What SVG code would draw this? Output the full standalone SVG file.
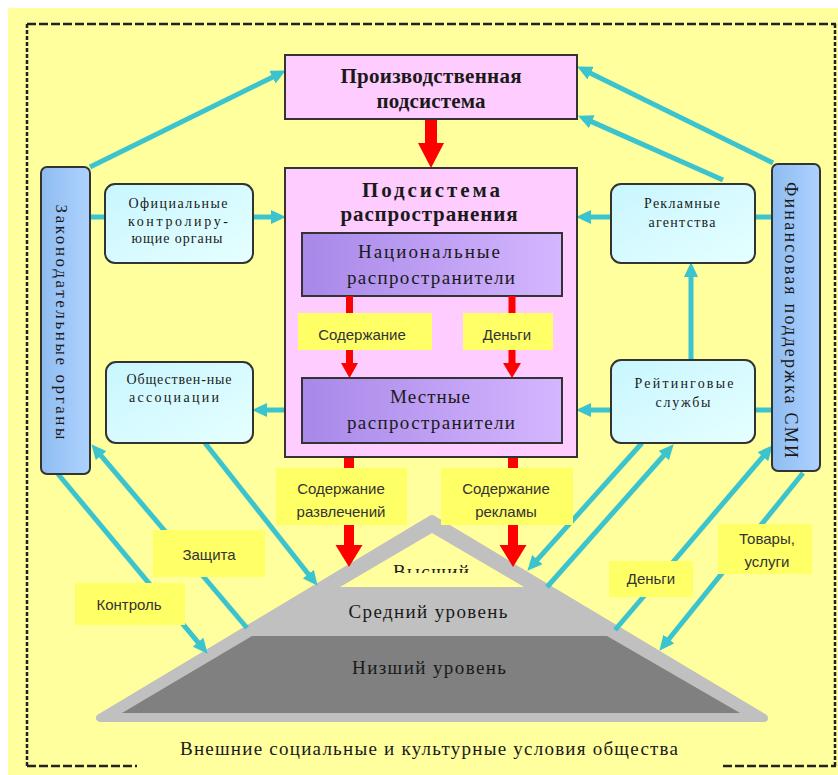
<svg xmlns="http://www.w3.org/2000/svg" width="838" height="775" viewBox="0 0 838 775">
<defs>
<style>
.serif{font-family:"Liberation Serif","Times New Roman",serif;fill:#1a1a1a}
.sans{font-family:"Liberation Sans",Arial,sans-serif;fill:#333;font-size:15px}
.box{stroke:#333;stroke-width:2}
.cy{fill:none;stroke:#3BC4CE;stroke-width:5}
.cya{fill:none;stroke:#3BC4CE;stroke-width:5;marker-end:url(#ah)}
.lbl{fill:#FFFF66}
.red{fill:#FF0000}
.dash{stroke:#222;stroke-width:2.5;stroke-dasharray:9 3;fill:none}
</style>
<marker id="ah" viewBox="0 0 15 14" refX="4" refY="7" markerWidth="15" markerHeight="14" markerUnits="userSpaceOnUse" orient="auto"><path d="M0,0 L15,7 L0,14 z" fill="#3BC4CE"/></marker>
<linearGradient id="gPurple" x1="0" y1="0" x2="1" y2="0"><stop offset="0" stop-color="#A888E8"/><stop offset="1" stop-color="#D4B6FF"/></linearGradient>
<linearGradient id="gCyan" x1="0" y1="0" x2="1" y2="1"><stop offset="0" stop-color="#C8F6FF"/><stop offset="1" stop-color="#E6FFFF"/></linearGradient>
<linearGradient id="gBlue" x1="0" y1="0" x2="1" y2="0"><stop offset="0" stop-color="#8EBCF0"/><stop offset="1" stop-color="#AED2FF"/></linearGradient>
<clipPath id="clipTop"><rect x="380" y="540" width="110" height="33"/></clipPath>
</defs>

<rect x="0" y="0" width="838" height="775" fill="#FFFFFF"/>
<rect x="8" y="8" width="830" height="767" fill="#FFFF9E"/>

<g id="frame">
<line class="dash" x1="27" y1="24" x2="836" y2="24"/>
<line class="dash" x1="27" y1="24" x2="27" y2="766" style="stroke-dasharray:4 2"/>
<line class="dash" x1="835" y1="24" x2="835" y2="766" style="stroke-dasharray:4 2"/>
<line class="dash" x1="27" y1="766" x2="137" y2="766"/>
<line class="dash" x1="723" y1="766" x2="836" y2="766"/>
<text class="serif" x="429" y="755" font-size="19" text-anchor="middle" textLength="498">Внешние социальные и культурные условия общества</text>
</g>

<g id="pyramid">
<polygon points="432,519 100,718 764,718" fill="#C0C0C0" stroke="#C0C0C0" stroke-width="8" stroke-linejoin="round"/>
<polygon points="432,533 340,587 524,587" fill="#FFFF9E"/>
<polygon points="252,636 607,636 740,713 122,713" fill="#808080"/>
<text class="serif" x="431" y="578" font-size="19" text-anchor="middle" textLength="76" clip-path="url(#clipTop)">Высший</text>
<text class="serif" x="428" y="618" font-size="19" text-anchor="middle" textLength="159">Средний уровень</text>
<text class="serif" x="429" y="674" font-size="19" text-anchor="middle" textLength="154">Низший уровень</text>
</g>

<g id="connectors">
<line class="cya" x1="90" y1="167" x2="276" y2="75.4"/>
<line class="cya" x1="773" y1="163" x2="587" y2="71.4"/>
<line class="cya" x1="723" y1="180" x2="588.1" y2="120.1"/>
<line class="cy" x1="89" y1="217" x2="106" y2="217"/>
<line class="cya" x1="253" y1="217" x2="275" y2="217"/>
<line class="cy" x1="754" y1="217" x2="773" y2="217"/>
<line class="cya" x1="611" y1="217" x2="587" y2="217"/>
<line class="cya" x1="691" y1="360" x2="691" y2="273"/>
<line class="cy" x1="754" y1="410" x2="773" y2="410"/>
<line class="cya" x1="611" y1="410" x2="587" y2="410"/>
<line class="cya" x1="285" y1="410" x2="263" y2="410"/>
<line class="cya" x1="58" y1="474" x2="200.6" y2="645.3"/>
<line class="cya" x1="247" y1="628" x2="98.5" y2="452.6"/>
<line class="cya" x1="205" y1="443" x2="310.8" y2="577.2"/>
<line class="cya" x1="642" y1="443" x2="534.7" y2="562.6"/>
<line class="cya" x1="547" y1="587" x2="666.4" y2="452.5"/>
<line class="cya" x1="615" y1="630" x2="765.5" y2="453.6"/>
<line class="cya" x1="803" y1="473" x2="666.3" y2="642.2"/>
<polygon class="red" points="425,119 437,119 437,143 444,143 431,168 418,143 425,143"/>
<polygon class="red" points="344,457 354,457 354,545 362.5,545 349,567 335.5,545 344,545"/>
<polygon class="red" points="508,457 518,457 518,545 526.5,545 513,567 499.5,545 508,545"/>
</g>

<g id="labels">
<rect class="lbl" x="276" y="468" width="131" height="57"/>
<text class="sans" x="341" y="494" text-anchor="middle">Содержание</text>
<text class="sans" x="341" y="517" text-anchor="middle">развлечений</text>
<rect class="lbl" x="441" y="468" width="132" height="57"/>
<text class="sans" x="506" y="494" text-anchor="middle">Содержание</text>
<text class="sans" x="506" y="517" text-anchor="middle">рекламы</text>
<rect class="lbl" x="153" y="530" width="112" height="47"/>
<text class="sans" x="209" y="560" text-anchor="middle">Защита</text>
<rect class="lbl" x="75" y="583" width="110" height="42"/>
<text class="sans" x="129" y="610" text-anchor="middle">Контроль</text>
<rect class="lbl" x="609" y="561" width="84" height="36"/>
<text class="sans" x="651" y="584" text-anchor="middle">Деньги</text>
<rect class="lbl" x="718" y="524" width="94" height="50"/>
<text class="sans" x="767" y="544" text-anchor="middle">Товары,</text>
<text class="sans" x="767" y="567" text-anchor="middle">услуги</text>
</g>

<g id="production">
<rect class="box" x="285" y="55" width="292" height="64" fill="#FFCCFF"/>
<text class="serif" x="431" y="83" font-size="21" font-weight="bold" text-anchor="middle" textLength="181">Производственная</text>
<text class="serif" x="431" y="108" font-size="21" font-weight="bold" text-anchor="middle" textLength="109">подсистема</text>
</g>

<g id="distribution">
<rect class="box" x="285" y="168" width="292" height="289" fill="#FFCCFF"/>
<text class="serif" x="431" y="197" font-size="21" font-weight="bold" text-anchor="middle" textLength="138">Подсистема</text>
<text class="serif" x="429" y="221" font-size="21" font-weight="bold" text-anchor="middle" textLength="177">распространения</text>
</g>

<g id="national">
<rect class="box" x="302" y="233" width="260" height="63" fill="url(#gPurple)"/>
<text class="serif" x="429" y="258" font-size="19" text-anchor="middle" textLength="142">Национальные</text>
<text class="serif" x="431" y="284" font-size="19" text-anchor="middle" textLength="168">распространители</text>
</g>

<g id="flow-inner">
<polygon class="red" points="346,296 353,296 353,363 358,363 349.5,378 341,363 346,363"/>
<polygon class="red" points="508.5,296 515.5,296 515.5,363 521,363 512,378 503,363 508.5,363"/>
<rect class="lbl" x="298" y="313" width="134" height="37"/>
<text class="sans" x="362" y="340" text-anchor="middle">Содержание</text>
<rect class="lbl" x="463" y="313" width="90" height="37"/>
<text class="sans" x="507" y="340" text-anchor="middle">Деньги</text>
</g>

<g id="local">
<rect class="box" x="302" y="378" width="260" height="65" fill="url(#gPurple)"/>
<text class="serif" x="430" y="403" font-size="19" text-anchor="middle" textLength="80">Местные</text>
<text class="serif" x="431" y="429" font-size="19" text-anchor="middle" textLength="168">распространители</text>
</g>

<g id="legislative">
<rect class="box" x="41" y="167" width="49" height="307" rx="6" fill="url(#gBlue)"/>
<text class="serif" transform="translate(56,322) rotate(90)" font-size="17" text-anchor="middle" textLength="235">Законодательные органы</text>
</g>

<g id="financial">
<rect class="box" x="772" y="164" width="48" height="307" rx="6" fill="url(#gBlue)"/>
<text class="serif" transform="translate(785,320) rotate(90)" font-size="18" text-anchor="middle" textLength="276">Финансовая поддержка СМИ</text>
</g>

<g id="official">
<rect class="box" x="105" y="184" width="148" height="79" rx="10" fill="url(#gCyan)"/>
<text class="serif" x="178" y="208" font-size="14" text-anchor="middle" textLength="99">Официальные</text>
<text class="serif" x="178" y="226" font-size="14" text-anchor="middle" textLength="100">контролиру-</text>
<text class="serif" x="177" y="243" font-size="14" text-anchor="middle" textLength="91">ющие органы</text>
</g>

<g id="public">
<rect class="box" x="106" y="362" width="147" height="81" rx="10" fill="url(#gCyan)"/>
<text class="serif" x="179" y="384" font-size="14" text-anchor="middle" textLength="105">Обществен-ные</text>
<text class="serif" x="174" y="402" font-size="14" text-anchor="middle" textLength="90">ассоциации</text>
</g>

<g id="advertising">
<rect class="box" x="611" y="184" width="144" height="79" rx="10" fill="url(#gCyan)"/>
<text class="serif" x="682" y="208" font-size="14" text-anchor="middle" textLength="76">Рекламные</text>
<text class="serif" x="682" y="227" font-size="14" text-anchor="middle" textLength="67">агентства</text>
</g>

<g id="rating">
<rect class="box" x="611" y="360" width="144" height="83" rx="10" fill="url(#gCyan)"/>
<text class="serif" x="684" y="388" font-size="14" text-anchor="middle" textLength="99">Рейтинговые</text>
<text class="serif" x="683" y="407" font-size="14" text-anchor="middle" textLength="55">службы</text>
</g>
</svg>
